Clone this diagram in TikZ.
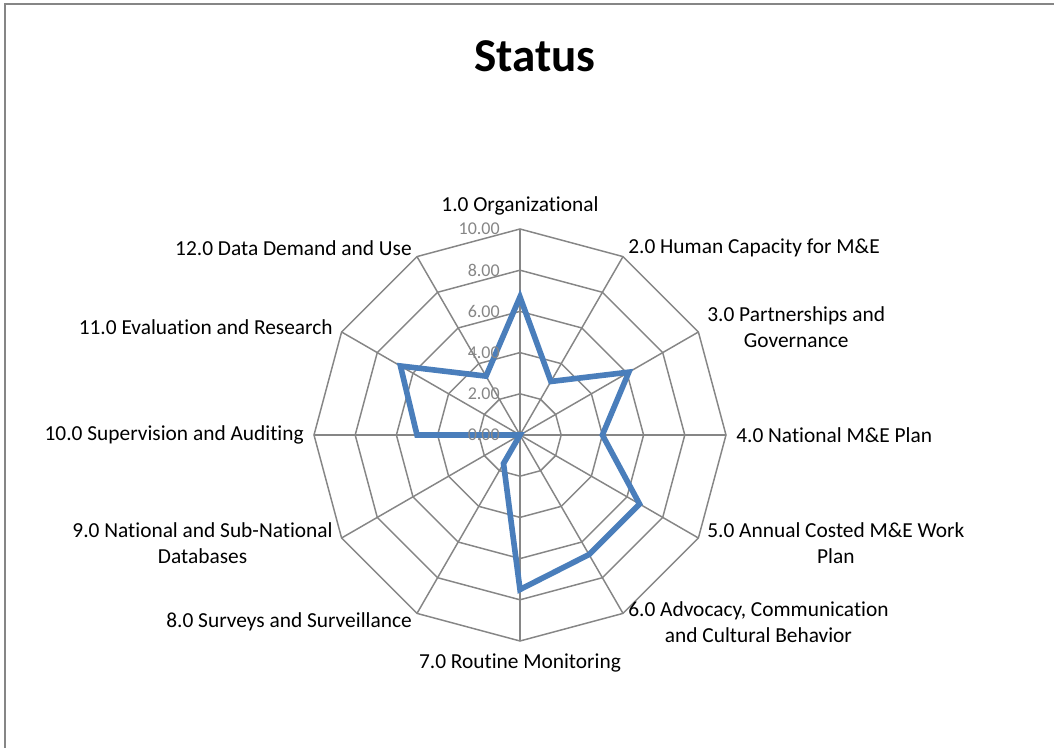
\documentclass[tikz,border=0pt]{standalone}
\usepackage{fontspec}
\setmainfont{Carlito}[Ligatures=NoCommon]
\definecolor{gridgray}{RGB}{134,134,134}
\definecolor{serieblue}{RGB}{74,126,187}
\tikzset{
  lbl/.style={inner sep=0pt,align=center,font=\fontsize{15.2}{18.5}\selectfont},
  ticklbl/.style={inner sep=0pt,anchor=east,text=gridgray,font=\fontsize{12.8}{15}\selectfont}
}
\begin{document}
\begin{tikzpicture}[x=0.025cm,y=0.025cm]
\useasboundingbox (-520,-313) rectangle (534,435);
\draw[gridgray,line width=1.4pt] (-515,-330)--(-515,431)--(550,431);
\node[font=\fontsize{33.5}{40}\selectfont\bfseries] (title) at (15,379) {Status};

% web
\foreach \k in {1,...,5}
{
    \draw[gridgray,line width=1.05pt] (90:{\k*41.2}) \foreach \a in {60,30,...,-240}{--(\a:{\k*41.2})} --cycle;
}
\foreach \a in {90,60,...,-240}
{
    \draw[gridgray,line width=1.05pt] (0,0)--(\a:206);
}

% series
\draw[serieblue,line width=4pt,line join=miter] (90:{6.7*20.6})
    \foreach \v [count=\i] in {3.0,6.1,4.0,6.7,6.7,7.5,1.6,0,5.0,6.7,3.3}{--({90-30*\i}:{\v*20.6})} --cycle;

% axis values
\foreach \k/\t in {0/0.00,1/2.00,2/4.00,3/6.00,4/8.00,5/10.00}
{
    \node[ticklbl] (v\k) at (-20,{\k*41.2}) {\t};
}

% categories
\node[lbl] (c1) at (90:229) {1.0 Organizational};
\node[lbl,anchor=west] (c2) at (60:216) {2.0 Human Capacity for M\&E};
\node[lbl,anchor=west] (c3) at (30:216) {3.0 Partnerships and\\Governance};
\node[lbl,anchor=west] (c4) at (0:216) {4.0 National M\&E Plan};
\node[lbl,anchor=west] (c5) at (-30:216) {5.0 Annual Costed M\&E Work\\Plan};
\node[lbl,anchor=west] (c6) at (-60:216) {6.0 Advocacy, Communication\\and Cultural Behavior};
\node[lbl] (c7) at (-90:228) {7.0 Routine Monitoring};
\node[lbl,anchor=east] (c8) at (-120:216) {8.0 Surveys and Surveillance};
\node[lbl,anchor=east] (c9) at (-150:216) {9.0 National and Sub-National\\Databases};
\node[lbl,anchor=east] (c10) at (180:216) {10.0 Supervision and Auditing};
\node[lbl,anchor=east] (c11) at (150:216) {11.0 Evaluation and Research};
\node[lbl,anchor=east] (c12) at (120:216) {12.0 Data Demand and Use};

\end{tikzpicture}
\end{document}
